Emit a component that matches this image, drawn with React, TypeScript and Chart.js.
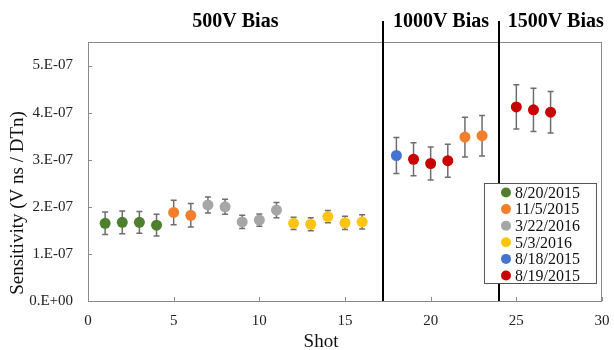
import React, { useEffect, useRef } from "react";
import { Chart, registerables } from "chart.js";

Chart.register(...registerables);

// ---------- data ----------
const SERIES_LABELS = ["8/20/2015", "11/5/2015", "3/22/2016", "5/3/2016", "8/18/2015", "8/19/2015"];
const SERIES_COLORS = ["#4E7F2E", "#F37E2C", "#A6A6A6", "#FFC512", "#4374D0", "#C80000"];

const SHOTS_0820 = [1, 2, 3, 4];
const SENS_0820 = [1.65e-7, 1.67e-7, 1.67e-7, 1.61e-7];
const ERR_0820 = [0.24e-7, 0.24e-7, 0.23e-7, 0.23e-7];

const SHOTS_1105 = [5, 6, 22, 23];
const SENS_1105 = [1.88e-7, 1.82e-7, 3.48e-7, 3.51e-7];
const ERR_1105 = [0.26e-7, 0.25e-7, 0.42e-7, 0.43e-7];

const SHOTS_0322 = [7, 8, 9, 10, 11];
const SENS_0322 = [2.04e-7, 2.0e-7, 1.68e-7, 1.72e-7, 1.93e-7];
const ERR_0322 = [0.17e-7, 0.16e-7, 0.14e-7, 0.13e-7, 0.16e-7];

const SHOTS_0503 = [12, 13, 14, 15, 16];
const SENS_0503 = [1.65e-7, 1.63e-7, 1.79e-7, 1.66e-7, 1.68e-7];
const ERR_0503 = [0.13e-7, 0.14e-7, 0.13e-7, 0.14e-7, 0.15e-7];

const SHOTS_0818 = [18];
const SENS_0818 = [3.09e-7];
const ERR_0818 = [0.38e-7];

const SHOTS_0819 = [19, 20, 21, 25, 26, 27];
const SENS_0819 = [3.01e-7, 2.92e-7, 2.98e-7, 4.12e-7, 4.06e-7, 4.01e-7];
const ERR_0819 = [0.35e-7, 0.35e-7, 0.35e-7, 0.47e-7, 0.46e-7, 0.44e-7];

const SHOTS = [SHOTS_0820, SHOTS_1105, SHOTS_0322, SHOTS_0503, SHOTS_0818, SHOTS_0819];
const SENS = [SENS_0820, SENS_1105, SENS_0322, SENS_0503, SENS_0818, SENS_0819];
const ERRS = [ERR_0820, ERR_1105, ERR_0322, ERR_0503, ERR_0818, ERR_0819];

const BIAS_DIVIDERS = [17.2, 24];
const BIAS_LABELS = ["500V Bias", "1000V Bias", "1500V Bias"];
const BIAS_LABEL_X = [8.6, 20.6, 27.3];

const X_TITLE = "Shot";
const Y_TITLE = "Sensitivity (V ns / DTn)";

const FONT = "'Liberation Serif', 'Times New Roman', serif";

// ---------- plugins ----------
const framePlugin = {
  id: "frame",
  beforeDatasetsDraw(chart: any) {
    const { ctx, chartArea: a } = chart;
    const xs = chart.scales.x;
    const ys = chart.scales.y;
    ctx.save();
    ctx.strokeStyle = "#8a8a8a";
    ctx.lineWidth = 1;
    ctx.strokeRect(a.left + 0.5, a.top + 0.5, a.right - a.left - 1, a.bottom - a.top);
    // inward tick marks
    ctx.beginPath();
    xs.ticks.forEach((t: any) => {
      const px = Math.round(xs.getPixelForValue(t.value)) + 0.5;
      ctx.moveTo(px, a.bottom);
      ctx.lineTo(px, a.bottom - 4);
    });
    ys.ticks.forEach((t: any) => {
      const n = t.value / 1e-7;
      if (Math.abs(n - Math.round(n)) > 1e-6) return;
      const py = Math.round(ys.getPixelForValue(t.value)) + 0.5;
      ctx.moveTo(a.left, py);
      ctx.lineTo(a.left + 4, py);
    });
    ctx.stroke();
    // error bars
    ctx.strokeStyle = "#6e6e6e";
    ctx.lineWidth = 1.5;
    chart.data.datasets.forEach((ds: any, i: number) => {
      ds.data.forEach((p: any, j: number) => {
        const e = ERRS[i][j];
        const px = xs.getPixelForValue(p.x);
        const yt = ys.getPixelForValue(p.y + e);
        const yb = ys.getPixelForValue(p.y - e);
        ctx.beginPath();
        ctx.moveTo(px, yt);
        ctx.lineTo(px, yb);
        ctx.moveTo(px - 3, yt);
        ctx.lineTo(px + 3, yt);
        ctx.moveTo(px - 3, yb);
        ctx.lineTo(px + 3, yb);
        ctx.stroke();
      });
    });
    ctx.restore();
  },
  afterDatasetsDraw(chart: any) {
    const { ctx, chartArea: a } = chart;
    const xs = chart.scales.x;
    ctx.save();
    // dividers
    ctx.strokeStyle = "#000";
    ctx.lineWidth = 2;
    BIAS_DIVIDERS.forEach((v) => {
      const px = Math.round(xs.getPixelForValue(v));
      ctx.beginPath();
      ctx.moveTo(px, 21);
      ctx.lineTo(px, a.bottom);
      ctx.stroke();
    });
    // bias labels
    ctx.fillStyle = "#000";
    ctx.font = `bold 20px ${FONT}`;
    ctx.textAlign = "center";
    ctx.textBaseline = "middle";
    BIAS_LABELS.forEach((lab, i) => {
      ctx.fillText(lab, xs.getPixelForValue(BIAS_LABEL_X[i]), 22);
    });
    // x title
    ctx.font = `19px ${FONT}`;
    ctx.fillStyle = "#111";
    ctx.fillText(X_TITLE, 321, 342);
    // y title
    ctx.save();
    ctx.translate(18, 203);
    ctx.rotate(-Math.PI / 2);
    ctx.fillText(Y_TITLE, 0, 0);
    ctx.restore();
    ctx.restore();
  },
  afterDraw(chart: any) {
    const { ctx, chartArea: a } = chart;
    ctx.save();
    const right = a.right - 5;
    const left = right - 113;
    const top = a.top + 141;
    const bottom = top + 101;
    ctx.fillStyle = "#fff";
    ctx.fillRect(left, top, right - left, bottom - top);
    ctx.strokeStyle = "#555";
    ctx.lineWidth = 1;
    ctx.strokeRect(left + 0.5, top + 0.5, right - left - 1, bottom - top - 1);
    ctx.font = `16px ${FONT}`;
    ctx.textAlign = "left";
    ctx.textBaseline = "middle";
    SERIES_LABELS.forEach((lab, i) => {
      const cy = top + 9.5 + i * 16.6;
      ctx.fillStyle = SERIES_COLORS[i];
      ctx.beginPath();
      ctx.arc(left + 22, cy, 5, 0, Math.PI * 2);
      ctx.fill();
      ctx.fillStyle = "#111";
      ctx.fillText(lab, left + 31, cy + 1);
    });
    ctx.restore();
  },
};

function yTickLabel(v: number): string {
  const n = v / 1e-7;
  const r = Math.round(n);
  if (Math.abs(n - r) > 1e-6) return "";
  return r === 0 ? "0.E+00" : `${r}.E-07`;
}

export default function App() {
  const ref = useRef<HTMLCanvasElement | null>(null);

  useEffect(() => {
    document.body.style.margin = "0";
    const canvas = ref.current;
    if (!canvas) return;
    const datasets = SERIES_LABELS.map((label, i) => ({
      label,
      data: SHOTS[i].map((x, j) => ({ x, y: SENS[i][j] })),
      backgroundColor: SERIES_COLORS[i],
      borderColor: SERIES_COLORS[i],
      borderWidth: 0,
      pointRadius: 5.5,
      pointHoverRadius: 5.5,
      showLine: false,
    }));
    const chart = new Chart(canvas, {
      type: "scatter",
      data: { datasets },
      options: {
        responsive: false,
        animation: false,
        devicePixelRatio: 1,
        layout: { padding: { left: 0, right: 12, top: 42, bottom: 0 } },
        plugins: { legend: { display: false }, tooltip: { enabled: false } },
        events: [],
        scales: {
          x: {
            type: "linear",
            min: 0,
            max: 30,
            grid: { display: false, drawTicks: false },
            border: { display: false },
            afterFit: (s: any) => {
              s.height = 49;
              s.paddingLeft = 0;
              s.paddingRight = 0;
            },
            ticks: {
              stepSize: 5,
              padding: 11,
              color: "#222",
              font: { family: FONT, size: 15 },
              maxRotation: 0,
            },
          },
          y: {
            type: "linear",
            min: 0,
            max: 5.5e-7,
            grid: { display: false, drawTicks: false },
            border: { display: false },
            afterFit: (s: any) => {
              s.width = 88;
              s.paddingTop = 0;
              s.paddingBottom = 0;
            },
            ticks: {
              stepSize: 1e-7,
              padding: 15,
              color: "#222",
              font: { family: FONT, size: 15 },
              callback: (v: any) => yTickLabel(Number(v)),
            },
          },
        },
      },
      plugins: [framePlugin],
    });
    return () => chart.destroy();
  }, []);

  return (
    <div style={{ width: 614, height: 350 }}>
      <canvas ref={ref} width={614} height={350} style={{ display: "block" }} />
    </div>
  );
}
